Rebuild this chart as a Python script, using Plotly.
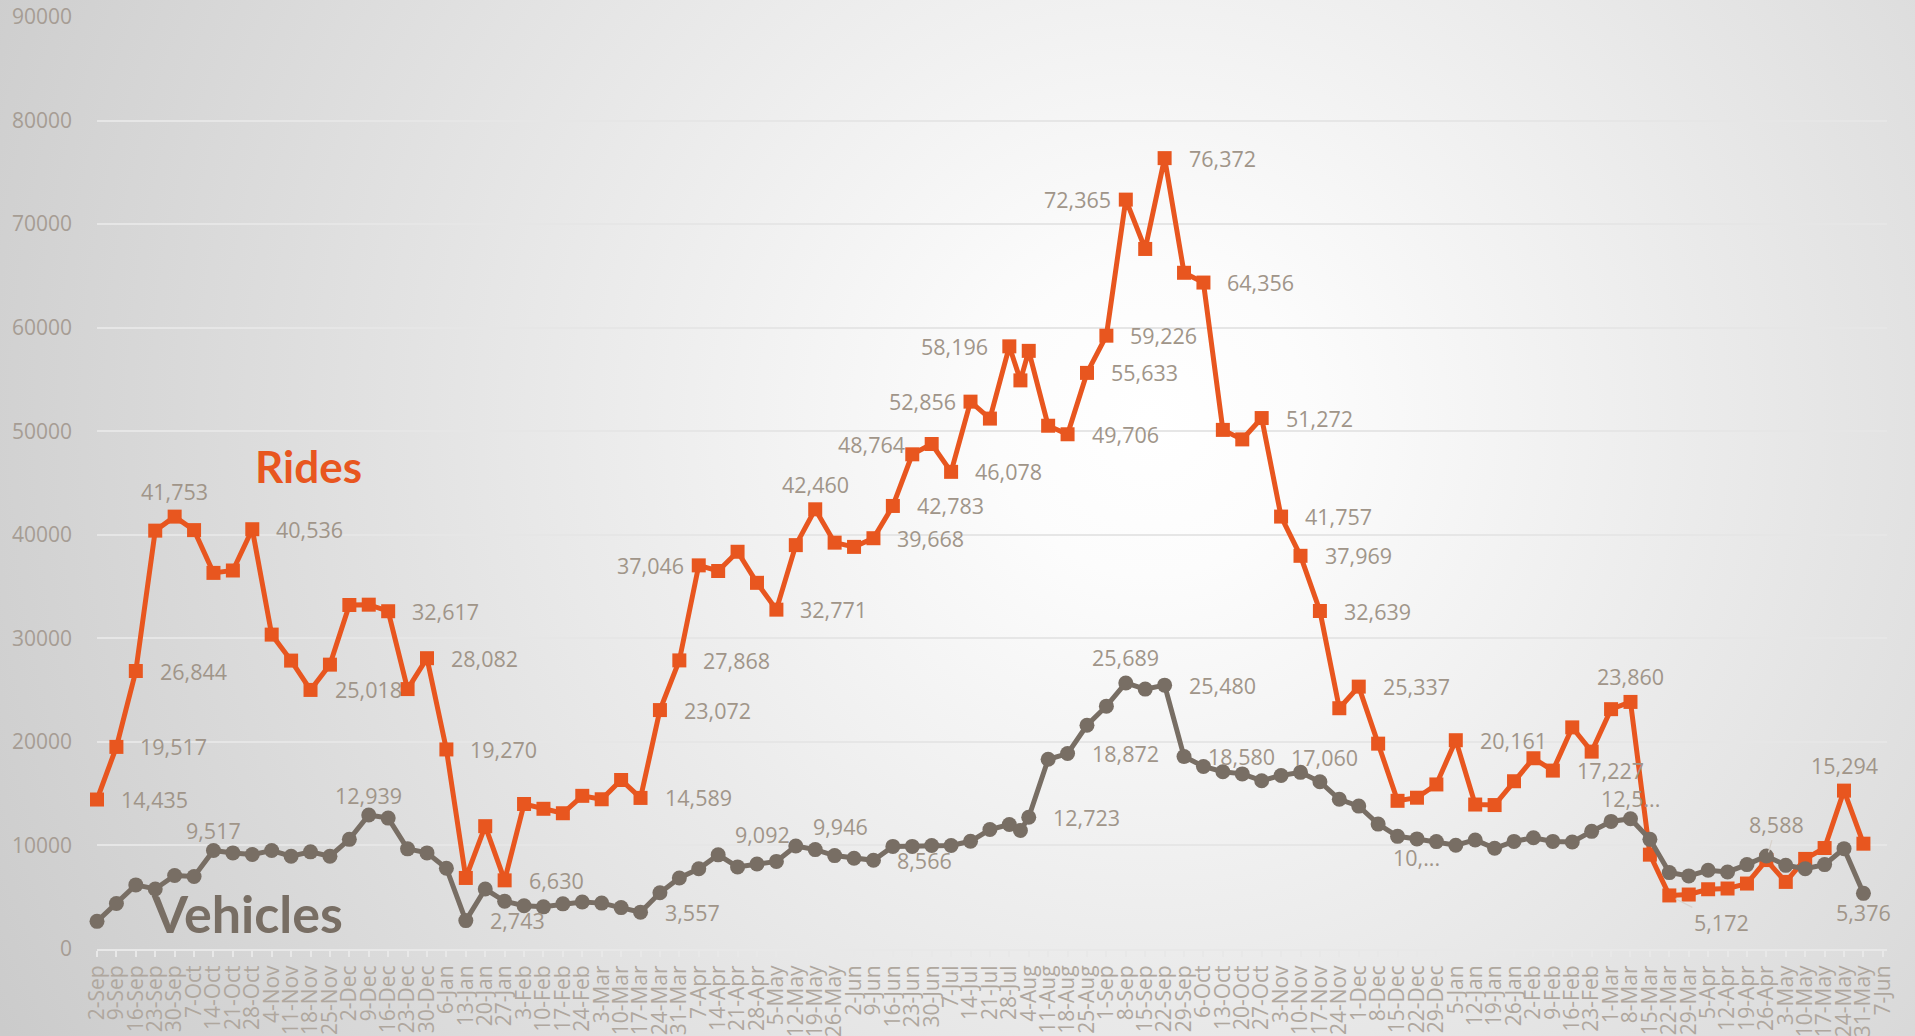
import base64
import pandas as pd
import plotly.graph_objects as go

# ---------------- data ----------------
weekly_dates = pd.date_range("2018-09-02", periods=92, freq="7D")
extra_date = pd.Timestamp("2019-08-01")
dates = list(weekly_dates[:48]) + [extra_date] + list(weekly_dates[48:])

rides = [
    14435, 19517, 26844, 40400, 41753, 40450, 36320, 36550, 40536, 30360,
    27850, 25018, 27460, 33220, 33250, 32617, 25100, 28082, 19270, 6860,
    11860, 6630, 14000, 13540, 13110, 14790, 14460, 16320, 14589, 23072,
    27868, 37046, 36500, 38360, 35360, 32771, 39000, 42460, 39240, 38830,
    39668, 42783, 47770, 48764, 46078, 52856, 51220, 58196, 54910, 57760,
    50530, 49706, 55633, 59226, 72365, 67600, 76372, 65300, 64356, 50130,
    49210, 51272, 41757, 37969, 32639, 23250, 25337, 19830, 14310, 14610,
    15890, 20161, 13950, 13900, 16200, 18420, 17227, 21400, 19060, 23160,
    23860, 9110, 5172, 5260, 5770, 5840, 6320, 8588, 6480, 8700,
    9750, 15294, 10170,
]

vehicles = [
    2670, 4400, 6190, 5800, 7100, 7000, 9517, 9280, 9120, 9510,
    8960, 9380, 8960, 10590, 12939, 12640, 9670, 9280, 7800, 2743,
    5790, 4610, 4180, 4070, 4360, 4540, 4430, 4000, 3557, 5430,
    6860, 7750, 9092, 7930, 8210, 8460, 9946, 9600, 9020, 8770,
    8566, 9910, 9910, 9990, 9990, 10400, 11540, 12020, 11450, 12723,
    18320, 18872, 21610, 23450, 25689, 25100, 25480, 18580, 17630, 17120,
    16910, 16250, 16760, 17060, 16150, 14460, 13800, 12060, 10880, 10630,
    10370, 10020, 10530, 9730, 10390, 10750, 10390, 10330, 11360, 12320,
    12580, 10590, 7380, 7060, 7600, 7440, 8150, 8980, 8080, 7760,
    8150, 9690, 5376,
]

# data labels: (date, position code, optional text override)
rides_labels = [
    ("2018-09-02", "r", None), ("2018-09-09", "r", None), ("2018-09-16", "r", None),
    ("2018-09-30", "t", None), ("2018-10-28", "r", None), ("2018-11-18", "r", None),
    ("2018-12-16", "r", None), ("2018-12-30", "r", None), ("2019-01-06", "r", None),
    ("2019-01-27", "r", None), ("2019-03-17", "r", None), ("2019-03-24", "r", None),
    ("2019-03-31", "r", None), ("2019-04-07", "l", None), ("2019-05-05", "r", None),
    ("2019-05-19", "t", None), ("2019-06-09", "r", None), ("2019-06-16", "r", None),
    ("2019-06-30", "l2", None), ("2019-07-07", "r", None), ("2019-07-14", "l", None),
    ("2019-07-28", "l3", None), ("2019-08-18", "r", None), ("2019-08-25", "r", None),
    ("2019-09-01", "r", None), ("2019-09-08", "l", None), ("2019-09-22", "r", None),
    ("2019-10-06", "r", None), ("2019-10-27", "r", None), ("2019-11-03", "r", None),
    ("2019-11-10", "r", None), ("2019-11-17", "r", None), ("2019-12-01", "r", None),
    ("2020-01-05", "r", None), ("2020-02-09", "r", None), ("2020-03-08", "t", None),
    ("2020-03-22", "lead_br", None), ("2020-04-26", "lead_t", None), ("2020-05-24", "t", None),
]

vehicles_labels = [
    ("2018-10-14", "tv", None), ("2018-12-09", "tv", None), ("2019-01-13", "r", None),
    ("2019-03-17", "r", None), ("2019-04-14", "tr", None), ("2019-05-12", "tr", None),
    ("2019-06-09", "r", None), ("2019-08-04", "r", None), ("2019-08-18", "r", None),
    ("2019-09-08", "t", None), ("2019-09-22", "r", None), ("2019-09-29", "r", None),
    ("2019-11-10", "tc", None), ("2019-12-22", "b", "10,..."), ("2020-03-08", "tv", "12,5..."),
    ("2020-05-31", "b", None),
]

# ---------------- style ----------------
ORANGE = "#E8561F"
TAUPE = "#786E64"
LABEL_COLOR = "#A09589"
TICK_COLOR = "#A69D94"
XTICK_COLOR = "#AFA79E"
FONT = "Open Sans"

W, H = 1915, 1036
ML, MR, MT, MB = 97, 28, 17, 87
PW, PH = W - ML - MR, H - MT - MB

svg = f"""<svg xmlns='http://www.w3.org/2000/svg' width='{W}' height='{H}'>
<defs><radialGradient id='g' gradientUnits='userSpaceOnUse' cx='1150' cy='420' r='1300'>
<stop offset='0' stop-color='#ffffff'/><stop offset='0.12' stop-color='#fcfcfc'/>
<stop offset='1' stop-color='#cbcbcb'/></radialGradient></defs>
<rect width='{W}' height='{H}' fill='url(#g)'/></svg>"""
bg_src = "data:image/svg+xml;base64," + base64.b64encode(svg.encode()).decode()

fig = go.Figure()
fig.add_trace(go.Scatter(
    x=dates, y=rides, name="Rides", mode="lines+markers",
    line=dict(color=ORANGE, width=5),
    marker=dict(symbol="square", size=14, color=ORANGE),
    cliponaxis=False, hoverinfo="x+y",
))
fig.add_trace(go.Scatter(
    x=dates, y=vehicles, name="Vehicles", mode="lines+markers",
    line=dict(color=TAUPE, width=5),
    marker=dict(symbol="circle", size=15, color=TAUPE),
    cliponaxis=False, hoverinfo="x+y",
))

date_strs = [d.strftime("%Y-%m-%d") for d in dates]

POS = {
    "r": dict(xanchor="left", yanchor="middle", xshift=22, yshift=0),
    "l": dict(xanchor="right", yanchor="middle", xshift=-13, yshift=0),
    "l2": dict(xanchor="right", yanchor="middle", xshift=-25, yshift=0),
    "l3": dict(xanchor="right", yanchor="middle", xshift=-19, yshift=0),
    "t": dict(xanchor="center", yanchor="middle", xshift=0, yshift=25),
    "tv": dict(xanchor="center", yanchor="middle", xshift=0, yshift=20),
    "tc": dict(xanchor="center", yanchor="middle", xshift=24, yshift=15),
    "b": dict(xanchor="center", yanchor="middle", xshift=0, yshift=-19),
    "tr": dict(xanchor="left", yanchor="middle", xshift=15, yshift=20),
}

annotations = []


def add_labels(values, specs):
    for d, pos, override in specs:
        i = date_strs.index(d)
        v = values[i]
        text = override if override else f"{v:,}"
        base = dict(x=dates[i], y=v, xref="x", yref="y", text=text,
                    font=dict(family=FONT, size=21.5, color=LABEL_COLOR))
        if pos == "lead_br":
            base.update(showarrow=True, arrowhead=0, arrowwidth=1.2,
                        arrowcolor="#D8D2CC", ax=52, ay=27, standoff=7)
        elif pos == "lead_t":
            base.update(showarrow=True, arrowhead=0, arrowwidth=1.2,
                        arrowcolor="#D8D2CC", ax=10, ay=-36, standoff=8)
        else:
            base.update(showarrow=False, **POS[pos])
        annotations.append(base)


add_labels(rides, rides_labels)
add_labels(vehicles, vehicles_labels)

annotations.append(dict(
    x=(308 - ML) / PW, y=(H - MB - 466) / PH, xref="paper", yref="paper",
    text="<b>Rides</b>", showarrow=False, xanchor="center", yanchor="middle",
    font=dict(family="Lato", size=44, color=ORANGE)))
annotations.append(dict(
    x=(247 - ML) / PW, y=(H - MB - 913) / PH, xref="paper", yref="paper",
    text="<b>Vehicles</b>", showarrow=False, xanchor="center", yanchor="middle",
    font=dict(family="Lato", size=52, color=TAUPE)))

fig.update_layout(
    width=W, height=H,
    margin=dict(l=ML, r=MR, t=MT, b=MB, pad=0, autoexpand=False),
    paper_bgcolor="#e0e0e0",
    plot_bgcolor="rgba(0,0,0,0)",
    showlegend=False,
    font=dict(family=FONT, color=TICK_COLOR),
    annotations=annotations,
    images=[dict(source=bg_src, xref="paper", yref="paper",
                 x=-ML / PW, y=1 + MT / PH, sizex=W / PW, sizey=H / PH,
                 xanchor="left", yanchor="top", sizing="stretch", layer="below")],
)

fig.update_xaxes(
    type="date", automargin=False,
    range=["2018-09-02", "2020-06-08 12:00"],
    tick0="2018-09-02", dtick=7 * 24 * 3600 * 1000,
    tickformat="%-d-%b", tickangle=-90,
    tickfont=dict(family=FONT, size=21, color=XTICK_COLOR),
    showgrid=False, zeroline=False,
    showline=True, linecolor="#E8E8E8", linewidth=2,
    ticks="outside", ticklen=6, tickwidth=1.5, tickcolor="#E8E8E8",
)
fig.update_yaxes(
    automargin=False,
    range=[0, 90000], dtick=10000, tickformat="d",
    tickfont=dict(family=FONT, size=21, color=TICK_COLOR),
    showgrid=True, gridcolor="#E6E6E6", gridwidth=1.5,
    zeroline=False, showline=False, ticks="", ticklabelstandoff=24,
)

fig.write_html(
    "out.html",
    config={"displayModeBar": False},
    post_script="document.body.style.margin='0';document.body.style.overflow='hidden';",
)
